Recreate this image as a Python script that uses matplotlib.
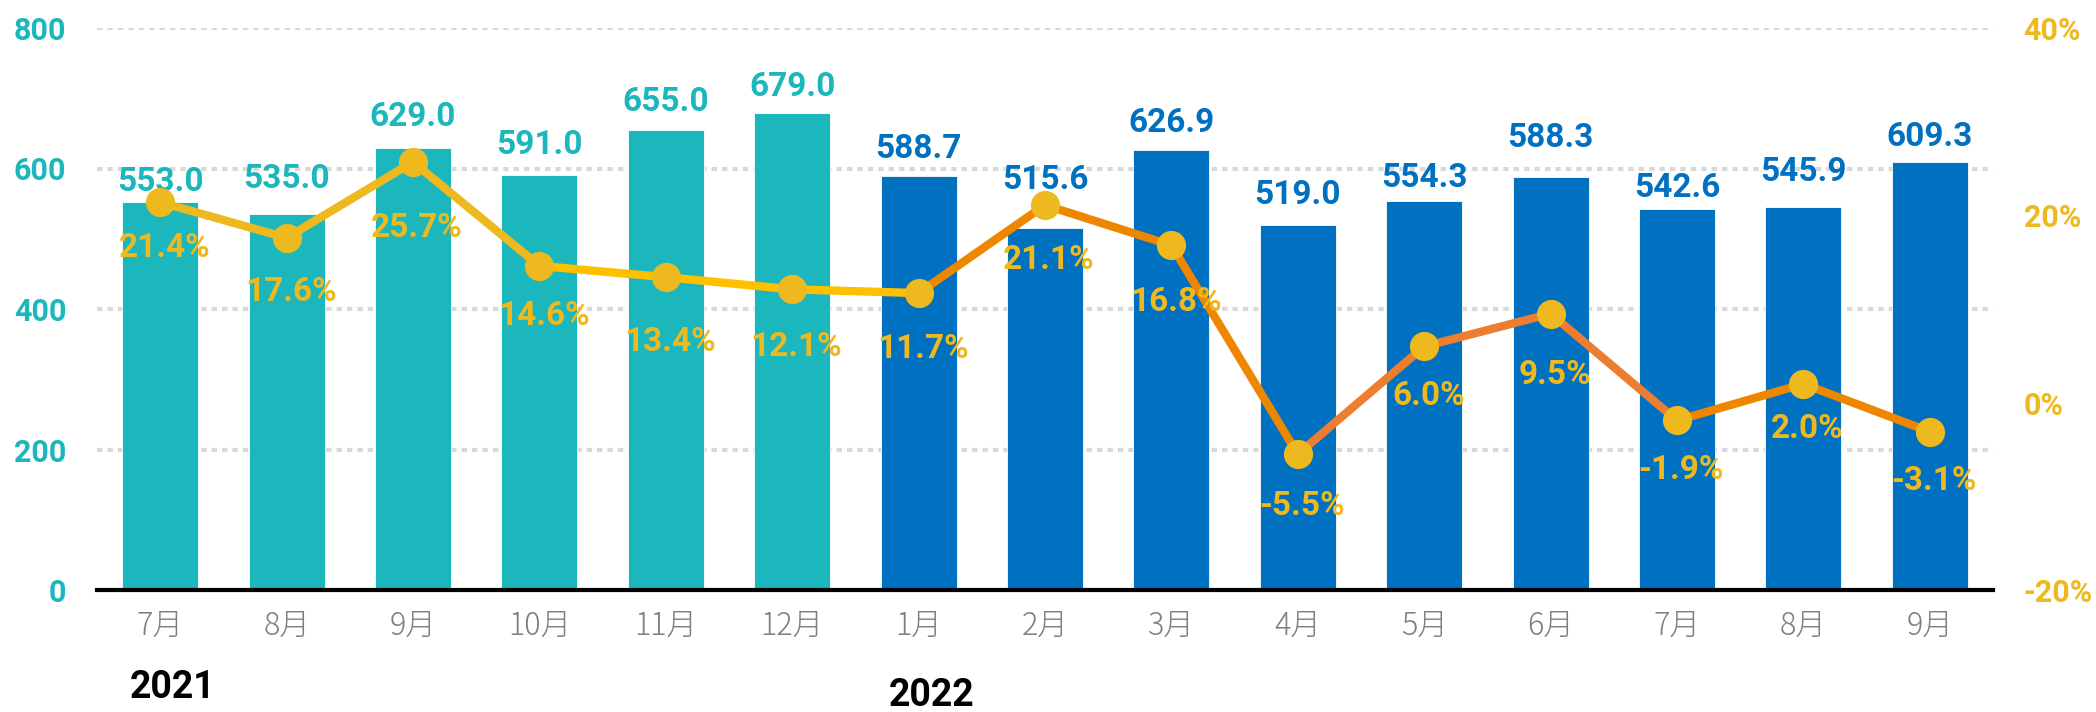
import matplotlib.pyplot as plt
import numpy as np

months = ["7月", "8月", "9月", "10月", "11月", "12月", "1月", "2月", "3月",
          "4月", "5月", "6月", "7月", "8月", "9月"]
sales = [553.0, 535.0, 629.0, 591.0, 655.0, 679.0, 588.7, 515.6, 626.9,
         519.0, 554.3, 588.3, 542.6, 545.9, 609.3]
growth = [21.4, 17.6, 25.7, 14.6, 13.4, 12.1, 11.7, 21.1, 16.8,
          -5.5, 6.0, 9.5, -1.9, 2.0, -3.1]
years = ["2021", "2022"]
left_ticks = [0, 200, 400, 600, 800]
right_ticks = [-20, 0, 20, 40]

# label nudges (pixels) as placed by hand in the original
bar_label_gap = [11, 26, 22, 21, 19, 17, 18, 39, 18, 21, 14, 30, 12, 26, 16]
pct_label_drop = [46, 54, 66, 50, 65, 58, 56, 55, 57, 52, 50, 61, 50, 45, 49]

TEAL = "#1BB7BC"
BLUE = "#0070C0"
GOLD = "#EDB91F"
YELLOW = "#FFC000"
ORANGE = "#EE8600"
ORANGE_LIGHT = "#ED7D31"

n_2021 = 6
bar_colors = [TEAL] * n_2021 + [BLUE] * (len(sales) - n_2021)
segment_colors = [GOLD] * 3 + [YELLOW] * 3 + [ORANGE] * 3 + [ORANGE_LIGHT] * 3 + [ORANGE] * 2

NUM_FONT = ["Roboto", "DejaVu Sans"]
CJK_FONT = ["Noto Sans CJK JP", "DejaVu Sans"]
PX = 72 / 100  # pixels -> points at dpi 100

fig = plt.figure(figsize=(20.96, 7.12), dpi=100)
ax = fig.add_axes([97 / 2096, 1 - 590 / 712, (1993 - 97) / 2096, (590 - 28) / 712])
x = np.arange(len(sales))

# grid (dotted, behind bars)
for v in left_ticks[1:]:
    ax.axhline(v, color="#D9D9D9", linewidth=3, linestyle=(0, (1.3, 1.2)),
               dash_capstyle="butt", zorder=0)

ax.bar(x, sales, width=0.6, color=bar_colors, edgecolor="white", linewidth=0.6, zorder=2)
for xi, v, c, gap in zip(x, sales, bar_colors, bar_label_gap):
    ax.annotate(f"{v:.1f}", (xi, v), xytext=(0, gap * PX), textcoords="offset points",
                ha="center", va="baseline", fontsize=24, fontweight="bold",
                color=c, family=NUM_FONT, zorder=3)

ax.set_xlim(-0.5, len(sales) - 0.5)
ax.set_ylim(0, 800)
ax.set_yticks(left_ticks)
ax.set_yticklabels([str(t) for t in left_ticks], fontsize=22, fontweight="bold",
                   color=TEAL, family=NUM_FONT)
ax.set_xticks(x)
ax.set_xticklabels(months, fontsize=22, fontweight="light", color="#7F7F7F", family=CJK_FONT)
ax.tick_params(axis="both", length=0)
ax.tick_params(axis="x", pad=14)
ax.tick_params(axis="y", pad=22)
for s in ("top", "right", "left"):
    ax.spines[s].set_visible(False)
ax.spines["bottom"].set_linewidth(3)
ax.spines["bottom"].set_color("black")
ax.spines["bottom"].set_zorder(4)

ax.text(0.1, -0.1726, years[0], transform=ax.get_xaxis_transform(), ha="center", va="center",
        fontsize=27, fontweight="bold", color="black", family=NUM_FONT)
ax.text(6.1, -0.1886, years[1], transform=ax.get_xaxis_transform(), ha="center", va="center",
        fontsize=27, fontweight="bold", color="black", family=NUM_FONT)

ax2 = ax.twinx()
ax2.set_ylim(-20, 40)
for i, c in enumerate(segment_colors):
    ax2.plot(x[i:i + 2], growth[i:i + 2], color=c, linewidth=6,
             solid_capstyle="round", zorder=3)
ax2.plot(x, growth, linestyle="none", marker="o", markersize=21,
         markerfacecolor=GOLD, markeredgewidth=0, zorder=4)
for xi, v, drop in zip(x, growth, pct_label_drop):
    ax2.annotate(f"{v:.1f}%", (xi, v), xytext=(3, -drop * PX), textcoords="offset points",
                 ha="center", va="center", fontsize=24, fontweight="bold",
                 color=GOLD, family=NUM_FONT, zorder=5)
ax2.set_yticks(right_ticks)
ax2.set_yticklabels([f"{t}%" for t in right_ticks], fontsize=22, fontweight="bold",
                    color=GOLD, family=NUM_FONT)
ax2.tick_params(axis="y", length=0, pad=22)
for s in ax2.spines.values():
    s.set_visible(False)

fig.savefig("out.png", dpi=100)
